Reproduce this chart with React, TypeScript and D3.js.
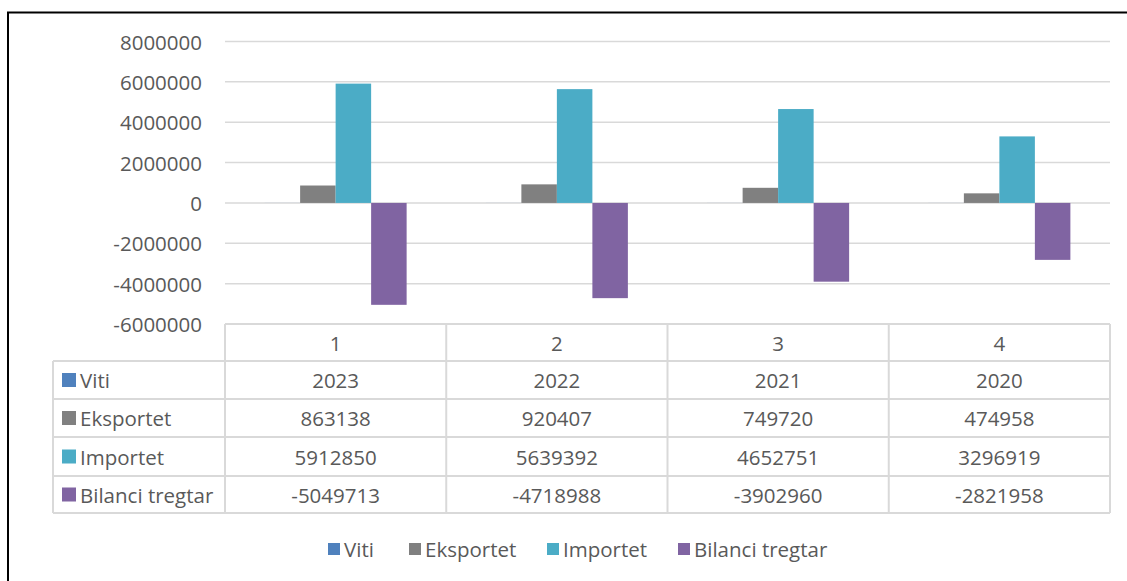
import React from "react";
import * as d3 from "d3";

const categories = ["1", "2", "3", "4"];
const seriesNames = ["Viti", "Eksportet", "Importet", "Bilanci tregtar"];
const viti = [2023, 2022, 2021, 2020];
const eksportet = [863138, 920407, 749720, 474958];
const importet = [5912850, 5639392, 4652751, 3296919];
const bilanci = [-5049713, -4718988, -3902960, -2821958];
const yTicks = [-6000000, -4000000, -2000000, 0, 2000000, 4000000, 6000000, 8000000];
const colors = ["#4F81BD", "#808080", "#4BACC6", "#8064A2"];

const W = 1127;
const H = 581;
const FONT = "'Open Sans', sans-serif";
const FS = 20.5;
const TXT = "#595959";
const GRID = "#D9D9D9";

export default function App() {
  const values = [viti, eksportet, importet, bilanci];
  const plotLeft = 225, plotRight = 1110, plotTop = 41.5, plotBottom = 324;
  const y = d3.scaleLinear().domain([-6000000, 8000000]).range([plotBottom, plotTop]);
  const x0 = d3.scaleBand<string>().domain(categories).range([plotLeft, plotRight]).padding(0);
  const x1 = d3.scaleBand<string>().domain(seriesNames).range([0, x0.bandwidth()]).paddingInner(0).paddingOuter(1.116);

  const tableLeft = 53;
  const rowTops = [324, 361, 399, 437, 476, 513];

  const legendItems = [
    { name: "Viti", x: 328 },
    { name: "Eksportet", x: 409 },
    { name: "Importet", x: 547 },
    { name: "Bilanci tregtar", x: 678 },
  ];

  return (
    <svg width={W} height={H} style={{ position: "absolute", left: 0, top: 0, background: "#fff" }} fontFamily={FONT}>
      <rect x={0} y={0} width={W} height={H} fill="#fff" />
      {/* frame */}
      <path d={`M8,${H + 5} V12.5 H${W + 5}`} fill="none" stroke="#000" strokeWidth={2} />

      {/* gridlines */}
      {yTicks.filter((t) => t !== -6000000).map((t) => (
        <line key={t} x1={plotLeft} x2={plotRight} y1={y(t)} y2={y(t)} stroke={GRID} strokeWidth={1.5} />
      ))}
      {/* y labels */}
      {yTicks.map((t) => (
        <text key={t} x={202} y={y(t)} textAnchor="end" dominantBaseline="central" fontSize={FS} fill={TXT}>
          {t}
        </text>
      ))}

      {/* bars */}
      {categories.map((c, ci) =>
        seriesNames.map((s, si) => {
          const v = values[si][ci];
          const bx = (x0(c) as number) + (x1(s) as number);
          const y0 = y(0);
          const yv = y(v);
          return (
            <rect
              key={c + s}
              x={bx}
              y={Math.min(y0, yv)}
              width={x1.bandwidth()}
              height={Math.abs(yv - y0)}
              fill={colors[si]}
            />
          );
        })
      )}

      {/* data table */}
      <g stroke={GRID} strokeWidth={2} fill="none">
        {/* header row */}
        <line x1={plotLeft} x2={plotRight} y1={rowTops[0]} y2={rowTops[0]} />
        {rowTops.slice(1).map((ry) => (
          <line key={ry} x1={tableLeft} x2={plotRight} y1={ry} y2={ry} />
        ))}
        <line x1={tableLeft} x2={tableLeft} y1={rowTops[1]} y2={rowTops[5]} />
        {categories.map((c) => (
          <line key={c} x1={x0(c)} x2={x0(c)} y1={rowTops[0]} y2={rowTops[5]} />
        ))}
        <line x1={plotRight} x2={plotRight} y1={rowTops[0]} y2={rowTops[5]} />
      </g>
      {categories.map((c) => (
        <text
          key={"h" + c}
          x={(x0(c) as number) + x0.bandwidth() / 2}
          y={(rowTops[0] + rowTops[1]) / 2}
          textAnchor="middle"
          dominantBaseline="central"
          fontSize={FS}
          fill={TXT}
        >
          {c}
        </text>
      ))}
      {seriesNames.map((s, si) => {
        const cy = (rowTops[si + 1] + rowTops[si + 2]) / 2;
        return (
          <g key={"r" + s}>
            <rect x={62} y={cy - 7} width={14} height={14} fill={colors[si]} />
            <text x={80} y={cy} dominantBaseline="central" fontSize={FS} fill={TXT}>
              {s}
            </text>
            {categories.map((c, ci) => (
              <text
                key={c}
                x={(x0(c) as number) + x0.bandwidth() / 2}
                y={cy}
                textAnchor="middle"
                dominantBaseline="central"
                fontSize={FS}
                fill={TXT}
              >
                {values[si][ci]}
              </text>
            ))}
          </g>
        );
      })}

      {/* legend */}
      {legendItems.map((it, i) => (
        <g key={it.name}>
          <rect x={it.x} y={543} width={12} height={12} fill={colors[i]} />
          <text x={it.x + 16} y={549} dominantBaseline="central" fontSize={FS} fill={TXT}>
            {it.name}
          </text>
        </g>
      ))}
    </svg>
  );
}
